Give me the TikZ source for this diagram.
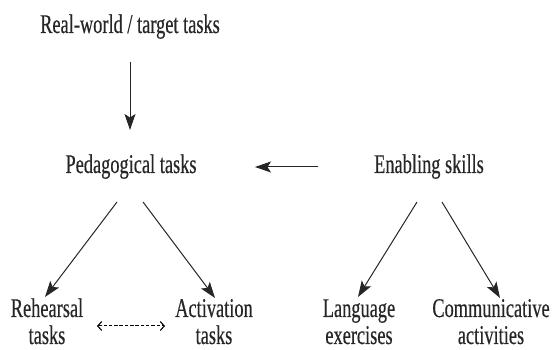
\documentclass[tikz,border=0pt]{standalone}
\usepackage{fontspec}
\setmainfont[FakeStretch=0.68,FakeBold=0.4]{Liberation Serif}
\usetikzlibrary{arrows.meta}
\tikzset{
  lbl/.style={inner sep=0pt, anchor=base, font=\fontsize{27}{27}\selectfont, text=black!85},
  arr/.style={line width=1pt, draw=black!85, -{Stealth[length=16pt,width=11pt,inset=3.5pt]}},
  darr/.style={line width=1pt, draw=black, dash pattern=on 3.5pt off 1.8pt,
    {Straight Barb[length=4pt,width=9pt,line width=1.1pt]}-{Straight Barb[length=4pt,width=9pt,line width=1.1pt]}}
}
\newcommand{\twoline}[2]{\renewcommand{\arraystretch}{1}\setlength{\tabcolsep}{0pt}\begin{tabular}[t]{c}#1\\#2\end{tabular}}
\begin{document}
\begin{tikzpicture}[x=1pt,y=1pt]
\useasboundingbox (0,0) rectangle (559,350);
\node[lbl] (real) at (130,317) {Real-world / target tasks};
\node[lbl] (ped) at (131,177) {Pedagogical tasks};
\node[lbl] (ena) at (429,177) {Enabling skills};
\node[lbl] (reh) at (47,33) {\twoline{Rehearsal}{tasks}};
\node[lbl] (act) at (214,33) {\twoline{Activation}{tasks}};
\node[lbl] (lan) at (359,33) {\twoline{Language}{exercises}};
\node[lbl] (com) at (491,33) {\twoline{Communicative}{activities}};
\draw[arr] ([yshift=-29pt]real.base) -- ([yshift=43pt]ped.base -| real.base);
\draw[arr] ([xshift=-111pt,yshift=6pt]ena.base) -- ([xshift=124pt,yshift=6pt]ped.base);
\draw[arr] ([shift={(-14pt,-29pt)}]ped.base) -- ([shift={(-2pt,20pt)}]reh.base);
\draw[arr] ([shift={(12pt,-29pt)}]ped.base) -- ([shift={(1pt,19pt)}]act.base);
\draw[arr] ([shift={(-12pt,-29pt)}]ena.base) -- ([shift={(-1pt,20pt)}]lan.base);
\draw[arr] ([shift={(13pt,-29pt)}]ena.base) -- ([shift={(9pt,19pt)}]com.base);
\draw[darr] ([shift={(50pt,-9pt)}]reh.base) -- ([shift={(-49pt,-9pt)}]act.base);
\end{tikzpicture}
\end{document}
